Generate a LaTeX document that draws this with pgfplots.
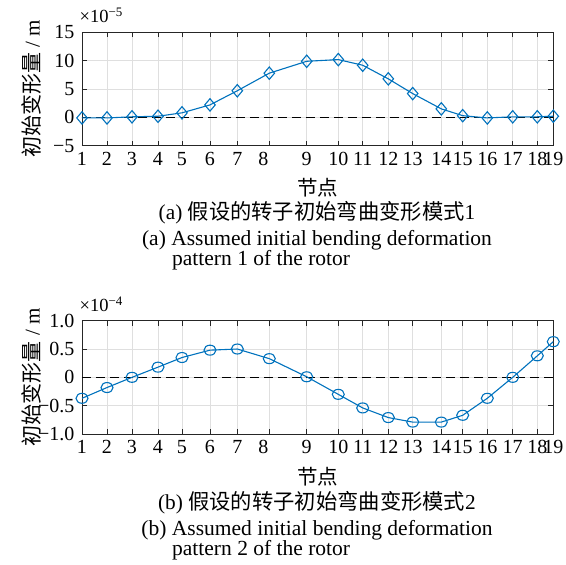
\documentclass[border=0pt]{standalone}
\usepackage{fontspec}
\setmainfont{Liberation Serif}
\newfontfamily\cjk{Noto Sans CJK SC}
\usepackage{pgfplots}
\pgfplotsset{compat=1.18}

\definecolor{mblue}{RGB}{0,114,189}
\definecolor{gridgray}{RGB}{223,223,223}
\definecolor{boxgray}{RGB}{38,38,38}

% node positions along the rotor (tick 1 at 0)
\def\nodepos{0,25,50,76,100,128,155.3,187.3,224.7,256.3,280.7,306.3,330.7,359.3,380.7,405.3,430.7,455.3,471.3}

\pgfplotsset{
  rotorax/.style={
    scale only axis,
    width=471.3pt, height=113.3pt,
    xmin=0, xmax=471.3,
    xtick/.expanded=\nodepos,
    xticklabels={1,2,3,4,5,6,7,\hspace*{-12pt}8,9,10,11,12,13,14,15,16,17,18,19},
    grid=major,
    major grid style={gridgray, line width=0.8pt},
    axis line style={boxgray, line width=0.9pt},
    tick style={boxgray, line width=0.8pt},
    tick align=inside,
    major tick length=5pt,
    ticklabel style={font=\fontsize{20}{21}\selectfont, text=black},
    xticklabel style={yshift=-3pt},
    yticklabel style={xshift=-4pt},
    xlabel={\cjk 节点},
    xlabel style={font=\fontsize{20.5}{21}\selectfont\cjk, at={(axis description cs:0.5,-0.375)}, anchor=center},
    ylabel style={font=\fontsize{21}{22}\selectfont, at={(axis description cs:-0.107,0.5)}, anchor=center},
    ylabel={{\cjk 初始变形量} / m},
    clip=false,
  },
}

\begin{document}
\begin{tikzpicture}
\useasboundingbox (0pt,0pt) rectangle (566pt,565pt);

% ---- (a) bending pattern 1 ----
\begin{axis}[rotorax,
  at={(82pt,419.3pt)}, anchor=south west,
  ymin=-5, ymax=15,
  ytick={-5,0,5,10,15},
  yticklabels={−5,0,5,10,15},
]
\addplot[black, line width=0.8pt, dash pattern=on 9pt off 5pt] coordinates {(0,0) (471.3,0)};
\addplot[mblue, line width=1.1pt, mark=diamond, mark size=6.2pt,
  mark options={solid, fill=none, line width=1.1pt, xscale=1.13}] coordinates {
  (0,-0.1) (25,-0.1) (50,0.1) (76,0.2) (100,0.8) (128,2.2) (155.3,4.7)
  (187.3,7.8) (224.7,9.9) (256.3,10.2) (280.7,9.2) (306.3,6.8) (330.7,4.2)
  (359.3,1.5) (380.7,0.3) (405.3,-0.1) (430.7,0.1) (455.3,0.1) (471.3,0.2)
};
\end{axis}
\node[anchor=base west, inner sep=0pt, font=\fontsize{18.5}{19}\selectfont]
  at (79.5pt,542.5pt) {×10\textsuperscript{−5}};

\node[inner sep=0pt, font=\fontsize{21.3}{22}\selectfont] at (317pt,352pt)
  {(a) {\cjk 假设的转子初始弯曲变形模式}1};
\node[inner sep=0pt, font=\fontsize{21.5}{22}\selectfont] at (317pt,325pt)
  {(a) Assumed initial bending deformation};
\node[anchor=west, inner sep=0pt, font=\fontsize{21.5}{22}\selectfont] at (172pt,305pt)
  {pattern 1 of the rotor};

% ---- (b) bending pattern 2 ----
\begin{axis}[rotorax,
  at={(82pt,131pt)}, anchor=south west,
  ymin=-1, ymax=1,
  ytick={-1,-0.5,0,0.5,1},
  yticklabels={−1.0,−0.5,0,0.5,1.0},
]
\addplot[black, line width=0.8pt, dash pattern=on 9pt off 5pt] coordinates {(0,0) (471.3,0)};
\addplot[mblue, line width=1.1pt, mark=o, mark size=5pt,
  mark options={solid, fill=none, line width=1.1pt, xscale=1.2}] coordinates {
  (0,-0.37) (25,-0.18) (50,0.0) (76,0.18) (100,0.35) (128,0.48) (155.3,0.50)
  (187.3,0.33) (224.7,0.01) (256.3,-0.30) (280.7,-0.54) (306.3,-0.71) (330.7,-0.79)
  (359.3,-0.79) (380.7,-0.67) (405.3,-0.37) (430.7,0.0) (455.3,0.38) (471.3,0.63)
};
\end{axis}
\node[anchor=base west, inner sep=0pt, font=\fontsize{18.5}{19}\selectfont]
  at (79.5pt,253.5pt) {×10\textsuperscript{−4}};

\node[inner sep=0pt, font=\fontsize{21.3}{22}\selectfont] at (317pt,62pt)
  {(b) {\cjk 假设的转子初始弯曲变形模式}2};
\node[inner sep=0pt, font=\fontsize{21.5}{22}\selectfont] at (317pt,35pt)
  {(b) Assumed initial bending deformation};
\node[anchor=west, inner sep=0pt, font=\fontsize{21.5}{22}\selectfont] at (172pt,15pt)
  {pattern 2 of the rotor};
\end{tikzpicture}
\end{document}
